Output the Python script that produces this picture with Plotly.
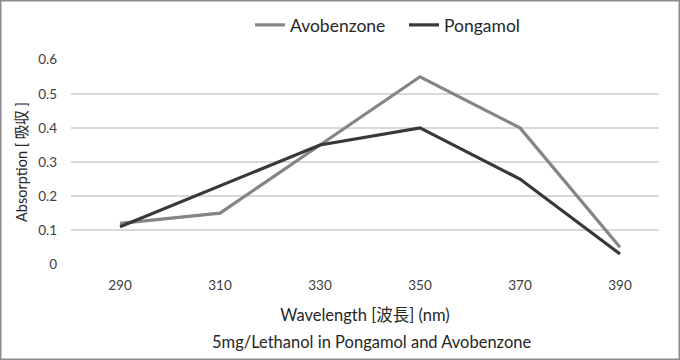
import plotly.graph_objects as go

wavelengths = [290, 310, 330, 350, 370, 390]
avobenzone = [0.12, 0.15, 0.35, 0.55, 0.40, 0.05]
pongamol = [0.11, 0.23, 0.35, 0.40, 0.25, 0.03]
y_ticks = [0, 0.1, 0.2, 0.3, 0.4, 0.5, 0.6]
y_tick_text = ["0", "0.1", "0.2", "0.3", "0.4", "0.5", "0.6"]

FONT = "Lato, 'Noto Sans CJK JP', sans-serif"

fig = go.Figure()
fig.add_trace(go.Scatter(x=wavelengths, y=avobenzone, mode="lines", name="Avobenzone",
                         line=dict(color="#858585", width=3.2)))
fig.add_trace(go.Scatter(x=wavelengths, y=pongamol, mode="lines", name="Pongamol",
                         line=dict(color="#383838", width=3.2)))

W, H = 680, 360
L, R, T, B = 71, 21, 59, 95
pw, ph = W - L - R, H - T - B

fig.update_layout(
    width=W, height=H,
    margin=dict(l=L, r=R, t=T, b=B, autoexpand=False),
    paper_bgcolor="white", plot_bgcolor="white",
    font=dict(family=FONT, color="#404040", size=13),
    showlegend=True,
    legend=dict(orientation="h", x=(250 - L) / pw, xanchor="left", y=1.0 + 34 / ph, yanchor="middle",
                font=dict(size=17.5, color="#262626"), itemwidth=30, tracegroupgap=0,
                entrywidth=109, entrywidthmode="pixels",
                bgcolor="rgba(0,0,0,0)"),
    xaxis=dict(range=[290 - 49 / 5, 390 + 39 / 5], tickvals=wavelengths,
               showgrid=False, zeroline=False, showline=False, ticks="",
               ticklabelstandoff=10, tickfont=dict(size=13.5, color="#404040"),
               title=dict(text="Wavelength [波長] (nm)", font=dict(size=16.5, color="#262626"), standoff=17)),
    yaxis=dict(range=[-0.002, 0.602], tickvals=y_ticks, ticktext=y_tick_text,
               showgrid=True, gridcolor="#d9d9d9", gridwidth=1.5, zeroline=False, showline=False,
               ticks="", ticklabelstandoff=13, tickfont=dict(size=13.5, color="#404040"),
               title=dict(text="Absorption [ 吸収 ]", font=dict(size=14.5, color="#262626"), standoff=7)),
)

fig.add_annotation(text="5mg/Lethanol in Pongamol and Avobenzone", xref="paper", yref="paper",
                   x=(371.5 - L) / pw, y=-(342 - (T + ph)) / ph, xanchor="center", yanchor="middle",
                   showarrow=False, font=dict(size=16.5, color="#262626", family=FONT))

# outer frame of the figure
fig.add_shape(type="rect", xref="paper", yref="paper",
              x0=-(L - 0.75) / pw, x1=(W - L - 0.75) / pw,
              y0=-(B - 0.75) / ph, y1=(H - B - 0.75) / ph,
              line=dict(color="#8c8c8c", width=1.5), fillcolor="rgba(0,0,0,0)", layer="above")

fig.write_html("out.html", config={"displayModeBar": False},
               post_script="document.body.style.margin='0';")
